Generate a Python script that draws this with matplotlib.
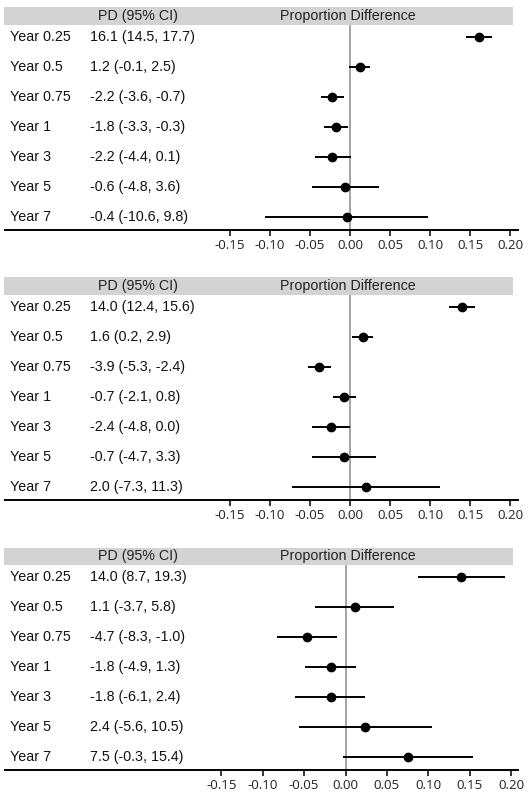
import matplotlib
matplotlib.use("Agg")
import matplotlib.pyplot as plt
import matplotlib.transforms as mtransforms
from matplotlib.patches import Rectangle

# ---------------- data ----------------
years = ["Year 0.25", "Year 0.5", "Year 0.75", "Year 1", "Year 3", "Year 5", "Year 7"]

pd1 = [16.1, 1.2, -2.2, -1.8, -2.2, -0.6, -0.4]
lo1 = [14.5, -0.1, -3.6, -3.3, -4.4, -4.8, -10.6]
hi1 = [17.7, 2.5, -0.7, -0.3, 0.1, 3.6, 9.8]

pd2 = [14.0, 1.6, -3.9, -0.7, -2.4, -0.7, 2.0]
lo2 = [12.4, 0.2, -5.3, -2.1, -4.8, -4.7, -7.3]
hi2 = [15.6, 2.9, -2.4, 0.8, 0.0, 3.3, 11.3]

pd3 = [14.0, 1.1, -4.7, -1.8, -1.8, 2.4, 7.5]
lo3 = [8.7, -3.7, -8.3, -4.9, -6.1, -5.6, -0.3]
hi3 = [19.3, 5.8, -1.0, 1.3, 2.4, 10.5, 15.4]

ticks = [-0.15, -0.10, -0.05, 0.00, 0.05, 0.10, 0.15, 0.20]
col_headers = ["PD (95% CI)", "Proportion Difference"]

# ---------------- layout ----------------
W, H = 531, 801
fig = plt.figure(figsize=(W / 100, H / 100), dpi=100)
TXT = ["Liberation Sans", "DejaVu Sans"]
TICKF = ["Open Sans", "DejaVu Sans"]
FS = 10.3

panels = [
    dict(pd=pd1, lo=lo1, hi=hi1, band_top=7, band_bot=25, row0=37.3, axis=230, xlim=(-0.43125, 0.21)),
    dict(pd=pd2, lo=lo2, hi=hi2, band_top=277.3, band_bot=294.5, row0=307.3, axis=500, xlim=(-0.43125, 0.21)),
    dict(pd=pd3, lo=lo3, hi=hi3, band_top=547.7, band_bot=565, row0=577.3, axis=770, xlim=(-0.4112, 0.2083)),
]
row_step = 30.0
x_left, x_right = 5, 518

for p in panels:
    # header band
    fig.patches.append(Rectangle((4 / W, 1 - p["band_bot"] / H), (513 - 4) / W,
                                 (p["band_bot"] - p["band_top"]) / H,
                                 transform=fig.transFigure, facecolor="#d3d3d3",
                                 edgecolor="none", zorder=0))
    yc = 1 - (p["band_top"] + p["band_bot"]) / 2 / H
    fig.text(138 / W, yc, col_headers[0], ha="center", va="center", fontsize=FS, family=TXT, color="#222222")
    fig.text(348 / W, yc, col_headers[1], ha="center", va="center", fontsize=FS, family=TXT, color="#222222")

    ax = fig.add_axes([x_left / W, 1 - p["axis"] / H, (x_right - x_left) / W,
                       (p["axis"] - p["band_bot"]) / H])
    ax.set_xlim(*p["xlim"])
    top = -(p["row0"] - p["band_bot"]) / row_step
    bot = (p["axis"] - p["row0"]) / row_step
    ax.set_ylim(bot, top)
    ax.patch.set_alpha(0)

    est = [v / 100 for v in p["pd"]]
    lo = [v / 100 for v in p["lo"]]
    hi = [v / 100 for v in p["hi"]]
    ys = list(range(len(years)))

    ax.axvline(0, color="#8a8a8a", lw=1.1, zorder=1)
    ax.hlines(ys, lo, hi, color="black", lw=1.4, zorder=2)
    ax.plot(est, ys, "o", color="black", ms=6, zorder=3)

    for s in ["top", "right", "left"]:
        ax.spines[s].set_visible(False)
    ax.spines["bottom"].set_linewidth(1.4)
    ax.set_yticks([])
    ax.set_xticks(ticks)
    ax.set_xticklabels([f"{t:.2f}" for t in ticks], fontsize=9.6, family=TICKF, color="#222222")
    ax.tick_params(axis="x", length=4, width=1.1, pad=2.5)

    trans = mtransforms.blended_transform_factory(fig.transFigure, ax.transData)
    for i, yl in enumerate(years):
        ax.text(9.5 / W, i, yl, transform=trans, ha="left", va="center",
                fontsize=FS, family=TXT, color="#111111")
        ax.text(90.5 / W, i, f"{p['pd'][i]:.1f} ({p['lo'][i]:.1f}, {p['hi'][i]:.1f})",
                transform=trans, ha="left", va="center", fontsize=FS, family=TXT, color="#111111")

fig.savefig("out.png", dpi=100)
